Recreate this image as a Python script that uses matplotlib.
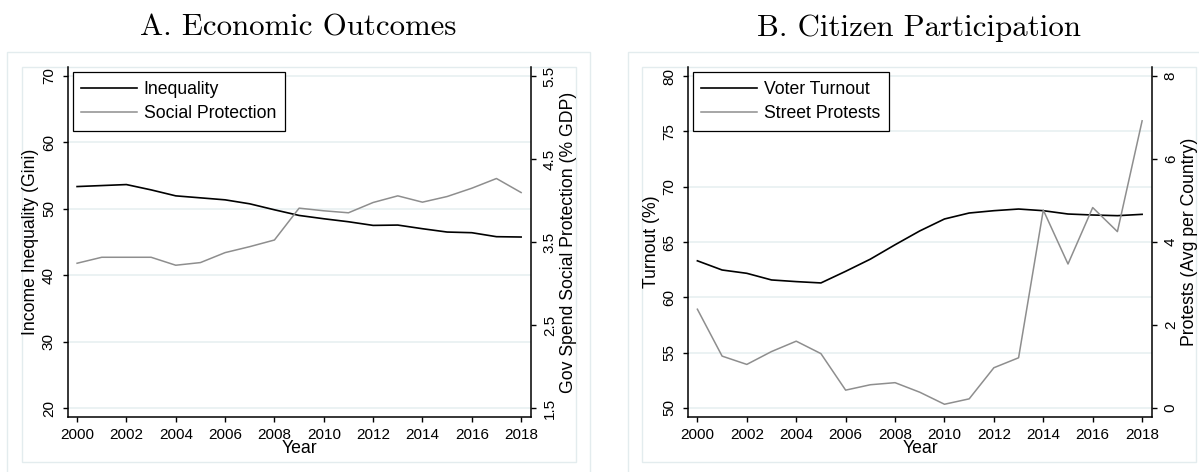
import matplotlib.pyplot as plt
from matplotlib.patches import Rectangle

# data
years = list(range(2000, 2019))
gini = [53.35, 53.5, 53.65, 52.85, 51.95, 51.65, 51.35, 50.75, 49.85, 49.0,
        48.5, 48.05, 47.5, 47.55, 47.0, 46.5, 46.4, 45.8, 45.75]
social = [3.244, 3.316, 3.316, 3.316, 3.22, 3.252, 3.372, 3.444, 3.524, 3.908,
          3.876, 3.852, 3.976, 4.056, 3.98, 4.048, 4.148, 4.265, 4.096]
turnout = [63.3, 62.47, 62.17, 61.57, 61.42, 61.3, 62.35, 63.45, 64.75, 66.0,
           67.08, 67.62, 67.83, 67.98, 67.83, 67.53, 67.44, 67.38, 67.5]
protests = [2.38, 1.25, 1.05, 1.36, 1.61, 1.31, 0.43, 0.56, 0.61, 0.38,
            0.09, 0.22, 0.97, 1.21, 4.77, 3.47, 4.83, 4.25, 6.92]
year_ticks = list(range(2000, 2019, 2))

W, H = 1199, 472
SANS = 'Liberation Sans'
BOX = '#e3ecee'
GRID = '#e8f0f1'
GRAY = '#8e8e8e'
FS = 11     # tick labels
LFS = 12.7  # axis labels, legend

plt.rcParams['font.family'] = SANS


def px(x0, y0, x1, y1):
    # pixel box (top-left origin) -> figure fraction rect
    return [x0 / W, 1 - y1 / H, (x1 - x0) / W, (y1 - y0) / H]


def panel(fig, rect, title, title_x, left_y, right_y, left_lim, right_lim,
          left_ticks, right_ticks, left_label, right_label, names):
    ax = fig.add_axes(rect)
    ax2 = ax.twinx()
    ax.set_zorder(1)
    ax2.set_zorder(2)
    ax.patch.set_visible(False)
    ax2.patch.set_visible(False)

    ax.yaxis.grid(True, color=GRID, lw=1.2, zorder=0)
    ax.set_axisbelow(True)

    l1, = ax.plot(years, left_y, color='black', lw=1.2, label=names[0])
    l2, = ax2.plot(years, right_y, color=GRAY, lw=1.1, label=names[1])

    ax.set_xlim(1999.62, 2018.40)
    ax.set_ylim(*left_lim)
    ax2.set_ylim(*right_lim)
    ax.set_xticks(year_ticks)
    ax.set_yticks(left_ticks)
    ax2.set_yticks(right_ticks)
    ax2.set_yticklabels([str(t) for t in right_ticks])

    for a in (ax, ax2):
        a.spines['top'].set_visible(False)
        for s in a.spines.values():
            s.set_linewidth(1.1)
    ax.spines['right'].set_visible(False)
    ax2.spines['left'].set_visible(False)
    ax2.spines['bottom'].set_visible(False)

    ax.tick_params(axis='x', length=3.3, width=1.0, pad=5, labelsize=FS)
    ax.tick_params(axis='y', length=3.3, width=1.0, pad=5.2, labelsize=FS)
    ax2.tick_params(axis='y', length=3.3, width=1.0, pad=5.2, labelsize=FS)
    for lab in ax.get_yticklabels():
        lab.set_rotation(90)
        lab.set_va('center')
    for lab in ax2.get_yticklabels():
        lab.set_rotation(90)
        lab.set_va('center')

    ax.set_xlabel('Year', fontsize=LFS, labelpad=-1.3)
    ax.set_ylabel(left_label, fontsize=LFS, labelpad=1.8)
    ax2.set_ylabel(right_label, fontsize=LFS, labelpad=2.2, rotation=90)

    leg = ax2.legend(handles=[l1, l2], loc='upper left',
                     bbox_to_anchor=(0.0108, 0.9857), borderaxespad=0,
                     fontsize=LFS, handlelength=3.15, handletextpad=0.4,
                     borderpad=0.48, labelspacing=0.42, fancybox=False,
                     framealpha=1, edgecolor='black')
    leg.get_frame().set_linewidth(0.9)

    fig.text(title_x / W, 1 - 36 / H, title, fontfamily='cmr10',
             fontsize=22.2, ha='center', va='baseline')
    return ax


fig = plt.figure(figsize=(W / 100, H / 100), dpi=100)

# panel frames (outer and inner plot region)
for x0, x1 in [(6.7, 590.3), (627.7, 1215)]:
    fig.add_artist(Rectangle((x0 / W, -0.05), (x1 - x0) / W, 0.05 + 1 - 52.3 / H,
                             transform=fig.transFigure, fill=False,
                             edgecolor=BOX, lw=1.0))
for x0, x1 in [(22.3, 575.7), (642.1, 1196)]:
    fig.add_artist(Rectangle((x0 / W, 1 - 462.3 / H), (x1 - x0) / W,
                             (462.3 - 67.3) / H, transform=fig.transFigure,
                             fill=False, edgecolor=BOX, lw=1.0))

panel(fig, px(67.7, 67.3, 531, 416.7), 'A. Economic Outcomes', 298.5,
      gini, social, (18.69, 71.31), (1.395, 5.605),
      [20, 30, 40, 50, 60, 70], [1.5, 2.5, 3.5, 4.5, 5.5],
      'Income Inequality (Gini)', 'Gov Spend Social Protection (% GDP)',
      ['Inequality', 'Social Protection'])

panel(fig, px(688, 67.3, 1152, 416.7), 'B. Citizen Participation', 919,
      turnout, protests, (49.21, 80.79), (-0.21, 8.21),
      [50, 55, 60, 65, 70, 75, 80], [0, 2, 4, 6, 8],
      'Turnout (%)', 'Protests (Avg per Country)',
      ['Voter Turnout', 'Street Protests'])

fig.savefig('out.png', dpi=100)
